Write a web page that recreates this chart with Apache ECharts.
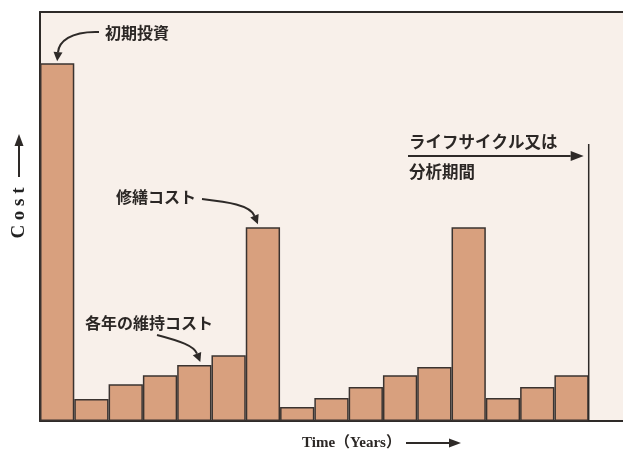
<!DOCTYPE html>
<html>
<head>
<meta charset="utf-8">
<script src="https://cdn.jsdelivr.net/npm/echarts@6/dist/echarts.min.js"></script>
<style>
  html, body { margin: 0; padding: 0; background: #ffffff; }
  #chart { width: 623px; height: 451px; }
</style>
</head>
<body>
<div id="chart"></div>
<script>
// Years along the time axis; the final slot stays empty after the analysis period ends.
const years = ['0', '1', '2', '3', '4', '5', '6', '7', '8', '9', '10', '11', '12', '13', '14', '15', '16'];
// Yearly cost (relative units): initial investment, maintenance, and two repair peaks.
const costs = [87.5, 5.4, 9.0, 11.2, 13.7, 16.1, 47.4, 3.4, 5.6, 8.3, 11.2, 13.2, 47.4, 5.6, 8.3, 11.2];
const costMax = 100;
// Life-cycle boundary: after the last year bar, marker line height in cost units.
const lifeCycleEndIndex = 15;
const lifeCycleLineTop = 67.7;

const INK = '#2e2a28';
const SERIF = '"Liberation Serif", "DejaVu Serif", "Noto Sans CJK JP", serif';
const CJK = '"Noto Sans CJK JP", sans-serif';

const chart = echarts.init(document.getElementById('chart'), null, { renderer: 'canvas' });

chart.setOption({
  animation: false,
  backgroundColor: '#ffffff',
  grid: {
    left: 40, right: 0, top: 12, bottom: 30,
    show: true, backgroundColor: '#f8f0ea', borderWidth: 0
  },
  xAxis: [
    {
      type: 'category', data: years, position: 'bottom',
      axisLine: { show: true, lineStyle: { color: INK, width: 2 } },
      axisTick: { show: false }, axisLabel: { show: false }, splitLine: { show: false }
    },
    {
      type: 'category', data: years, position: 'top',
      axisLine: { show: true, lineStyle: { color: INK, width: 2 } },
      axisTick: { show: false }, axisLabel: { show: false }, splitLine: { show: false }
    }
  ],
  yAxis: {
    type: 'value', min: 0, max: costMax,
    axisLine: { show: true, lineStyle: { color: INK, width: 2 } },
    axisTick: { show: false }, axisLabel: { show: false }, splitLine: { show: false }
  },
  series: [{
    type: 'bar',
    xAxisIndex: 0,
    data: costs,
    barCategoryGap: '0%',
    itemStyle: { color: '#d8a07e', borderColor: '#3a3330', borderWidth: 1.5 },
    z: 3
  }]
});

function px(xIndex, value) {
  return chart.convertToPixel({ xAxisIndex: 0, yAxisIndex: 0 }, [xIndex, value]);
}

// Curved arrow: cubic Bézier from start to tip with a filled head aligned to the last control point.
function curvedArrow(start, c1, c2, tip, headLen, headHalf) {
  const dx = tip[0] - c2[0], dy = tip[1] - c2[1];
  const len = Math.hypot(dx, dy) || 1;
  const ux = dx / len, uy = dy / len;
  const bx = tip[0] - ux * headLen, by = tip[1] - uy * headLen;
  return [
    {
      type: 'bezierCurve', z: 10,
      shape: { x1: start[0], y1: start[1], cpx1: c1[0], cpy1: c1[1], cpx2: c2[0], cpy2: c2[1], x2: bx, y2: by },
      style: { stroke: INK, lineWidth: 2, fill: null }
    },
    {
      type: 'polygon', z: 10,
      shape: { points: [tip, [bx - uy * headHalf, by + ux * headHalf], [bx + uy * headHalf, by - ux * headHalf]] },
      style: { fill: INK }
    }
  ];
}

function straightArrow(start, tip, headLen, headHalf) {
  const mid1 = [start[0] + (tip[0] - start[0]) / 3, start[1] + (tip[1] - start[1]) / 3];
  const mid2 = [start[0] + 2 * (tip[0] - start[0]) / 3, start[1] + 2 * (tip[1] - start[1]) / 3];
  return curvedArrow(start, mid1, mid2, tip, headLen, headHalf);
}

function label(text, x, y, font, extra) {
  return Object.assign({
    type: 'text', z: 11,
    style: { text: text, x: x, y: y, font: font, fill: '#2b2725', textVerticalAlign: 'middle' }
  }, extra || {});
}

function buildGraphics() {
  const g = [];
  const cjkFont = 'bold 16px ' + CJK;

  // Initial investment
  const tip0 = px(0, costs[0]);
  g.push(label('初期投資', 105, 33, cjkFont));
  g.push(...curvedArrow([99, 32], [70, 31], [59, 42], [tip0[0], tip0[1] - 2], 9, 4.5));

  // Repair cost
  const tip6 = px(6, costs[6]);
  g.push(label('修繕コスト', 116, 197, cjkFont));
  g.push(...curvedArrow([202, 199], [228, 202], [250, 205], [tip6[0] - 5, tip6[1] - 3], 9, 4.5));

  // Yearly maintenance cost
  const tip4 = px(4, costs[4]);
  g.push(label('各年の維持コスト', 85, 323, cjkFont));
  g.push(...curvedArrow([157, 335], [180, 341], [194, 346], [tip4[0] + 6, tip4[1] - 3], 9, 4.5));

  // Life cycle / analysis period boundary line
  const endBottom = px(lifeCycleEndIndex, 0);
  const endTop = px(lifeCycleEndIndex, lifeCycleLineTop);
  const band = px(1, 0)[0] - px(0, 0)[0];
  const xEnd = endBottom[0] + band / 2;
  g.push({
    type: 'line', z: 9,
    shape: { x1: xEnd, y1: endTop[1], x2: xEnd, y2: endBottom[1] },
    style: { stroke: INK, lineWidth: 1.5 }
  });
  g.push(label('ライフサイクル又は', 409, 142, 'bold 16.5px ' + CJK));
  g.push(...straightArrow([408, 156], [xEnd - 5, 156], 13, 5));
  g.push(label('分析期間', 409, 172, 'bold 16.5px ' + CJK));

  // Axis titles with direction arrows
  g.push({
    type: 'text', z: 11, x: 19, y: 213, rotation: Math.PI / 2,
    style: { text: 'C o s t', x: 0, y: 0, font: 'bold 19px ' + SERIF, fill: '#222', textAlign: 'center', textVerticalAlign: 'middle' }
  });
  g.push(...straightArrow([19, 177], [19, 134], 12, 4.5));

  g.push(label('Time（Years）', 302, 443, 'bold 15px ' + SERIF));
  g.push(...straightArrow([406, 443], [461, 443], 12, 4.5));

  return g;
}

chart.setOption({ graphic: buildGraphics() });
</script>
</body>
</html>
